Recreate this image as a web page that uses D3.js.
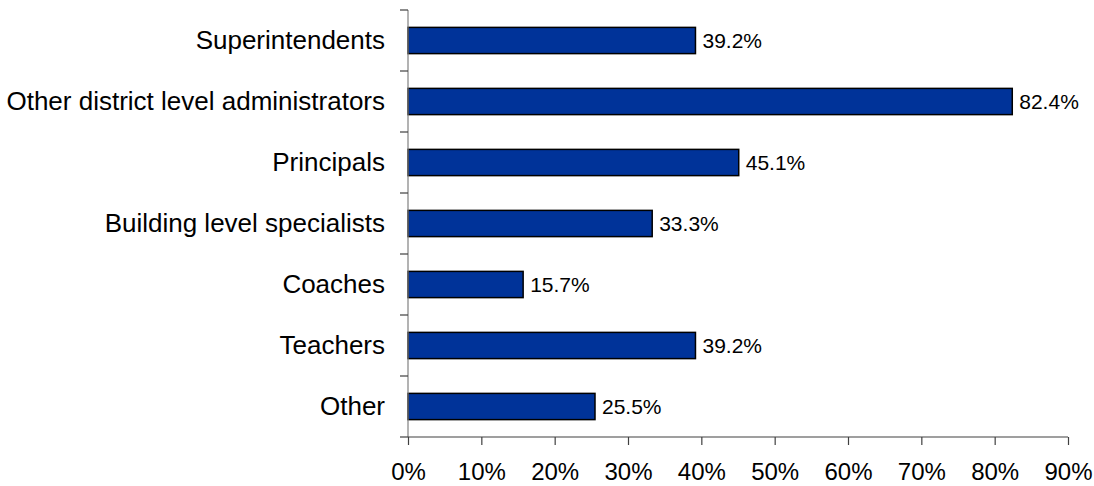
<!DOCTYPE html>
<html>
<head>
<meta charset="utf-8">
<script src="https://cdn.jsdelivr.net/npm/d3@7"></script>
<style>
  html, body { margin: 0; padding: 0; background: #fff; }
  svg { display: block; font-family: "Liberation Sans", Arial, sans-serif; }
</style>
</head>
<body>
<svg id="chart" width="1094" height="486"></svg>
<script>
// Share of respondents by role
const categories = [
  "Superintendents",
  "Other district level administrators",
  "Principals",
  "Building level specialists",
  "Coaches",
  "Teachers",
  "Other"
];
const values = [39.2, 82.4, 45.1, 33.3, 15.7, 39.2, 25.5];
const xTicks = [0, 10, 20, 30, 40, 50, 60, 70, 80, 90];

const svg = d3.select("#chart");
const plotLeft = 408, plotRight = 1068, plotTop = 10, plotBottom = 437;

const x = d3.scaleLinear().domain([0, 90]).range([plotLeft, plotRight]);
const y = d3.scaleBand().domain(categories).range([plotTop, plotBottom]).paddingInner(0.57).paddingOuter(0.285);
const band = d3.scaleBand().domain(categories).range([plotTop, plotBottom]);

// Bars
svg.append("g").selectAll("rect")
  .data(categories)
  .join("rect")
  .attr("x", x(0))
  .attr("y", d => y(d))
  .attr("width", (d, i) => x(values[i]) - x(0))
  .attr("height", y.bandwidth())
  .attr("fill", "#003399")
  .attr("stroke", "#000")
  .attr("stroke-width", 1.5);

// Value labels
svg.append("g").selectAll("text")
  .data(categories)
  .join("text")
  .attr("x", (d, i) => x(values[i]) + 7)
  .attr("y", d => y(d) + y.bandwidth() / 2)
  .attr("dy", "0.35em")
  .attr("font-size", 21)
  .attr("fill", "#000")
  .text((d, i) => values[i].toFixed(1) + "%");

// Category labels
svg.append("g").selectAll("text")
  .data(categories)
  .join("text")
  .attr("x", 385)
  .attr("y", d => y(d) + y.bandwidth() / 2)
  .attr("dy", "0.33em")
  .attr("text-anchor", "end")
  .attr("font-size", 26)
  .attr("fill", "#000")
  .text(d => d);

// Y axis line with boundary ticks between categories
const yAxis = svg.append("g");
yAxis.append("line")
  .attr("x1", plotLeft).attr("x2", plotLeft)
  .attr("y1", plotTop).attr("y2", plotBottom)
  .attr("stroke", "#808080").attr("stroke-width", 1.2);
const boundaries = categories.map(c => band(c)).concat([plotBottom]);
yAxis.selectAll("line.tick")
  .data(boundaries)
  .join("line")
  .attr("class", "tick")
  .attr("x1", plotLeft - 8).attr("x2", plotLeft)
  .attr("y1", d => d).attr("y2", d => d)
  .attr("stroke", "#404040").attr("stroke-width", 1.2);

// X axis
const xAxis = d3.axisBottom(x)
  .tickValues(xTicks)
  .tickFormat(d => d + "%")
  .tickSize(8)
  .tickPadding(18);
const gx = svg.append("g")
  .attr("transform", `translate(0,${plotBottom})`)
  .call(xAxis);
gx.select(".domain").attr("stroke", "#404040").attr("stroke-width", 1.2).attr("d", `M${plotLeft},0H${plotRight}`);
gx.selectAll(".tick line").attr("stroke", "#404040").attr("stroke-width", 1.2);
gx.selectAll(".tick text")
  .attr("font-size", 24)
  .attr("font-family", "Liberation Sans, Arial, sans-serif")
  .attr("fill", "#000");
</script>
</body>
</html>
